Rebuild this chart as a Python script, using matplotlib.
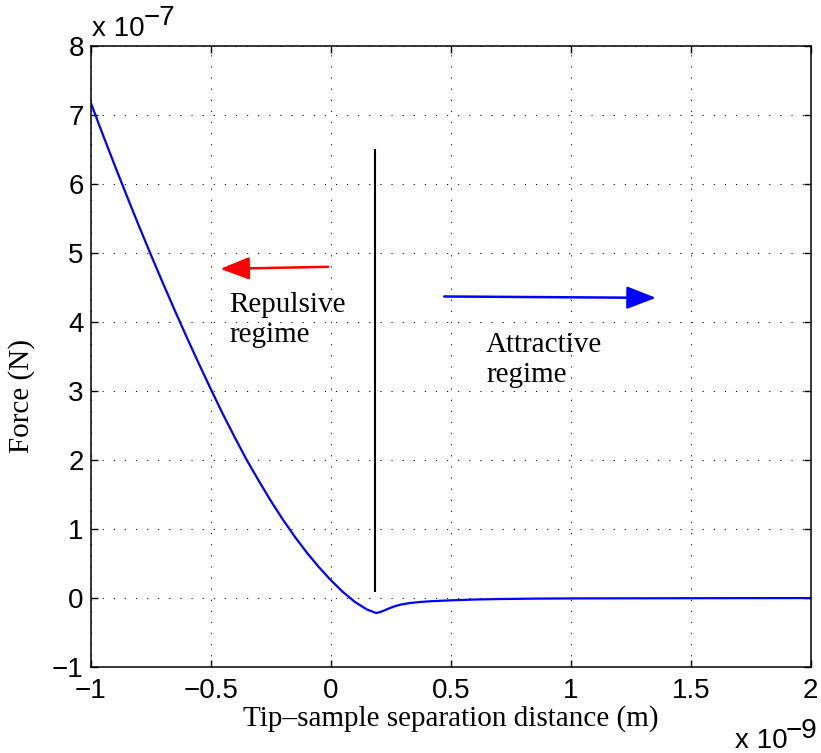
import matplotlib
matplotlib.use('Agg')
import matplotlib.pyplot as plt

# tip-sample force curve (x in 1e-9 m, F in 1e-7 N)
sep = [-1.0, -0.95, -0.9, -0.85, -0.8, -0.75, -0.7, -0.65, -0.6, -0.55,
       -0.5, -0.45, -0.4, -0.35, -0.3, -0.25, -0.2, -0.15, -0.1, -0.05,
       0.0, 0.05, 0.1, 0.15, 0.189, 0.205, 0.22, 0.24, 0.26, 0.28, 0.3,
       0.33, 0.37, 0.42, 0.5, 0.6, 0.7, 0.85, 1.0, 1.5, 2.0]
force = [7.18, 6.72, 6.27, 5.83, 5.40, 4.98, 4.57, 4.17, 3.78, 3.40,
         3.03, 2.67, 2.33, 2.00, 1.70, 1.41, 1.14, 0.89, 0.66, 0.45,
         0.26, 0.09, -0.055, -0.165, -0.217, -0.205, -0.185, -0.155, -0.128, -0.106, -0.09,
         -0.073, -0.058, -0.046, -0.034, -0.022, -0.015, -0.009, -0.006, -0.003, -0.001]

# boundary between regimes
a0_x = 0.185
a0_span = [0.08, 6.51]

# regime arrows: (start, end)
rep_arrow = [(-0.01, 4.80), (-0.46, 4.77)]
att_arrow = [(0.473, 4.37), (1.355, 4.35)]

xticks = [-1, -0.5, 0, 0.5, 1, 1.5, 2]
yticks = [-1, 0, 1, 2, 3, 4, 5, 6, 7, 8]

sans = 'Liberation Sans'
serif = 'Liberation Serif'
plt.rcParams['lines.scale_dashes'] = False

fig = plt.figure(figsize=(8.21, 7.53), dpi=100)
ax = fig.add_axes([0.1105, 0.1142, 0.877, 0.8247])

ax.plot(sep, force, color='blue', linewidth=1.6)
ax.vlines(a0_x, a0_span[0], a0_span[1], color='black', linewidth=1.5)

for (x0, y0), (x1, y1), c in [(rep_arrow[0], rep_arrow[1], 'red'),
                              (att_arrow[0], att_arrow[1], 'blue')]:
    ax.annotate('', xy=(x1, y1), xytext=(x0, y0),
                arrowprops=dict(arrowstyle='-|>,head_length=0.9,head_width=0.35',
                                mutation_scale=20, color=c, linewidth=1.8,
                                shrinkA=0, shrinkB=0))

ax.text(-0.4225, 4.44, 'Repulsive\nregime', family=serif, fontsize=21,
        va='top', ha='left', linespacing=1.2)
ax.text(0.647, 3.86, 'Attractive\nregime', family=serif, fontsize=21,
        va='top', ha='left', linespacing=1.2)

ax.set_xlim(-1, 2)
ax.set_ylim(-1, 8)
ax.set_xticks(xticks)
ax.set_yticks(yticks)
ax.set_xticklabels(['\u22121', '\u22120.5', '0', '0.5', '1', '1.5', '2'])
ax.set_yticklabels(['\u22121', '0', '1', '2', '3', '4', '5', '6', '7', '8'])
for lab in ax.get_xticklabels() + ax.get_yticklabels():
    lab.set_family(sans)
    lab.set_fontsize(20)
ax.tick_params(direction='in', length=5, width=1, top=True, right=True)
ax.tick_params(axis='x', pad=8)
ax.tick_params(axis='y', pad=5)
for s in ax.spines.values():
    s.set_linewidth(1.1)

ax.grid(True, color='black', linewidth=0.7, linestyle=(0, (0.8, 7.2)))

ax.set_xlabel('Tip\u2013sample separation distance (m)', family=serif, fontsize=21)
ax.set_ylabel('Force (N)', family=serif, fontsize=21)
ax.xaxis.set_label_coords(0.5, -0.062)
ax.yaxis.set_label_coords(-0.077, 0.436)

# exponent labels in MATLAB style
fig.text(91.7 / 821, 1 - 36 / 753, 'x 10', family=sans, fontsize=20)
fig.text(143.5 / 821, 1 - 25 / 753, '\u22127', family=sans, fontsize=20)
fig.text(734.7 / 821, 1 - 748 / 753, 'x 10', family=sans, fontsize=20)
fig.text(786 / 821, 1 - 738 / 753, '\u22129', family=sans, fontsize=20)

fig.savefig('out.png', dpi=100)
